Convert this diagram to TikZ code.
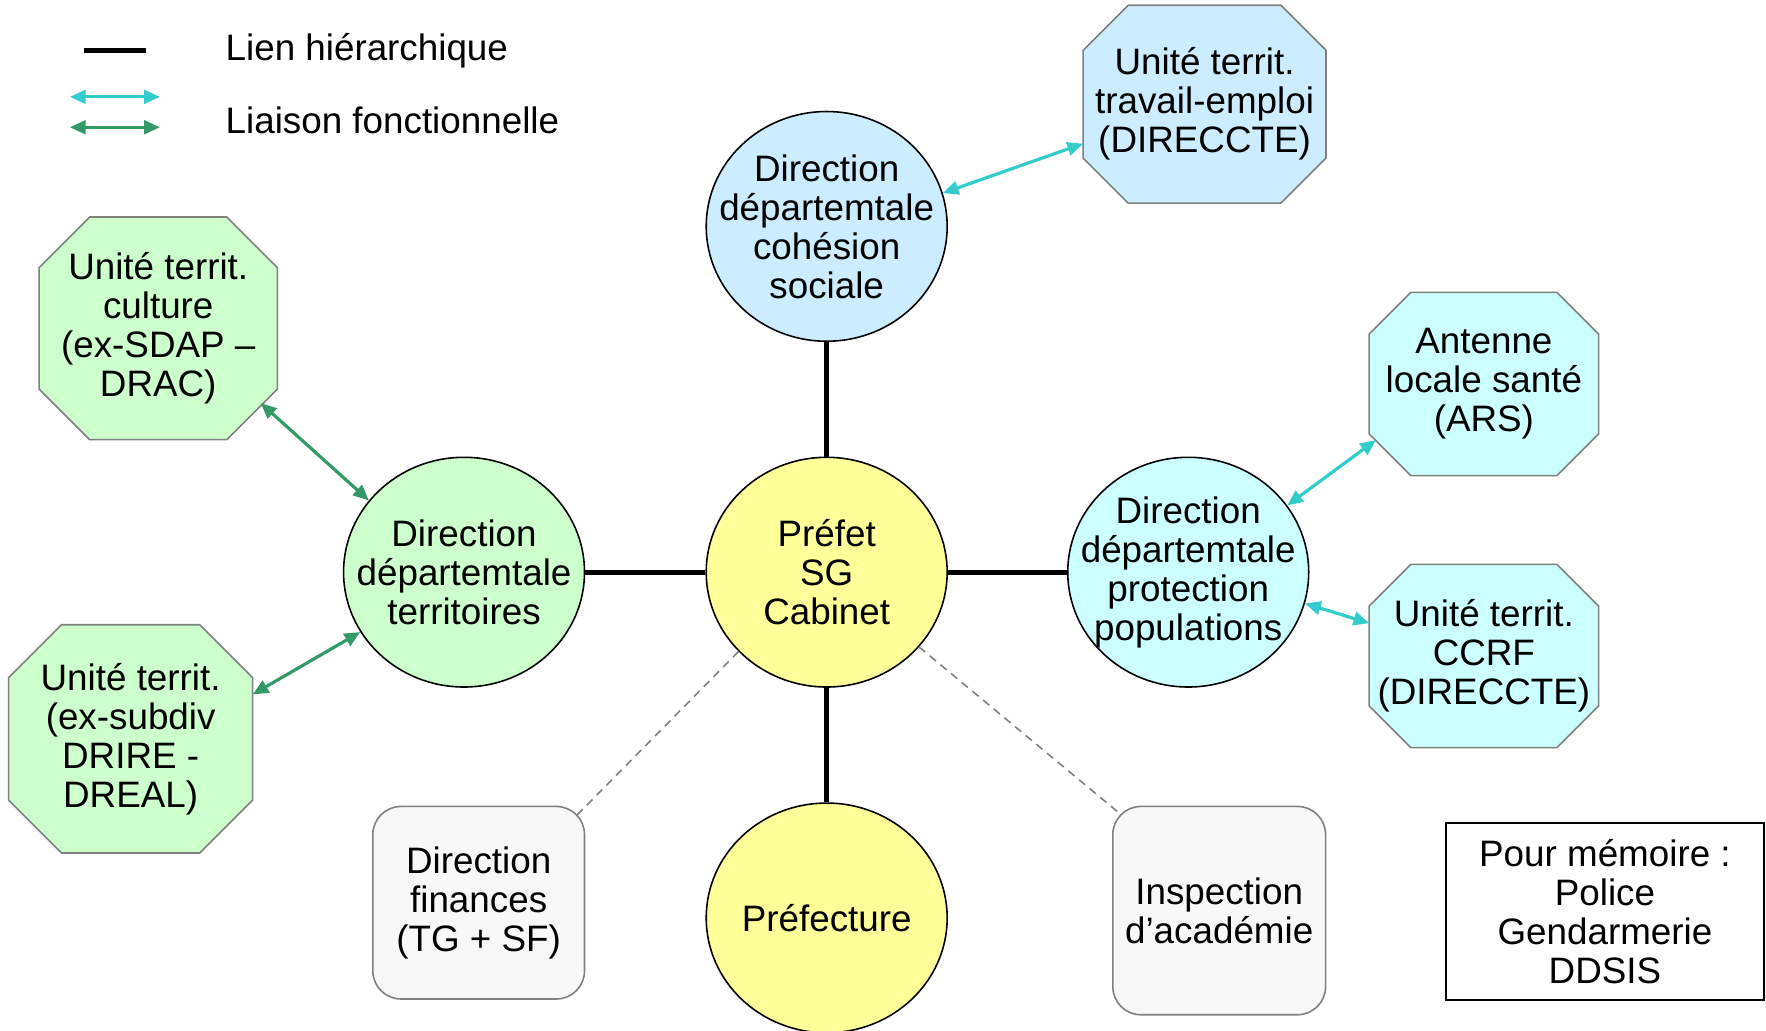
\documentclass[tikz,border=0pt]{standalone}
\usepackage{fontspec}
\setmainfont{Liberation Sans}
\usetikzlibrary{shapes.geometric,arrows.meta,backgrounds}
\definecolor{jaune}{HTML}{FFFF99}
\definecolor{bleuclair}{HTML}{CCECFF}
\definecolor{vertclair}{HTML}{CCFFCC}
\definecolor{cyanclair}{HTML}{CCFFFF}
\definecolor{grisclair}{HTML}{F8F8F8}
\definecolor{bord}{HTML}{808080}
\definecolor{lienbleu}{HTML}{33CCCC}
\definecolor{lienvert}{HTML}{339966}

\begin{document}
\begin{tikzpicture}[x=0.02cm, y=-0.02cm,
    every node/.style={font=\fontsize{18.6}{19.7}\selectfont, inner sep=0pt},
    every label/.style={align=center},
    >={Triangle[length=0.28cm, width=0.24cm]},
    dir/.style={ellipse, draw, line width=0.8pt, minimum width=4.28cm, minimum height=4.08cm},
    unite/.style={rectangle},
    octo/.style={draw=bord, line width=0.8pt},
    boite/.style={rectangle, rounded corners=0.5cm, draw=bord, fill=grisclair, line width=0.8pt, align=center},
    hier/.style={line width=2.6pt},
    fonct/.style={<->, line width=1.6pt},
    memo/.style={bord, line width=0.8pt, dash pattern=on 4pt off 3pt, shorten >=-0.22cm}]
    \useasboundingbox (0,0) rectangle (1568,915.4);
    \draw[hier] (75,45) -- (130,45);
    \draw[fonct, lienbleu] (62,86) -- (142,86);
    \draw[fonct, lienvert] (62,113) -- (142,113);
    \node[anchor=west] (lh) at (200,45) {Lien hiérarchique};
    \node[anchor=west] (lf) at (200,107) {Liaison fonctionnelle};

    \node[dir, fill=jaune, label={center:Préfet\\SG\\Cabinet}] (pf) at (734,508) {};
    \node[dir, fill=bleuclair, label={center:Direction\\départemtale\\cohésion\\sociale}] (cs) at (734,201) {};
    \node[dir, fill=vertclair, label={center:Direction\\départemtale\\territoires}] (tr) at (412,508) {};
    \node[dir, fill=cyanclair, label={center:Direction\\départemtale\\protection\\populations}] (pp) at (1055,508) {};
    \node[dir, fill=jaune, label={center:Préfecture}] (prf) at (734,815) {};

    \node[unite, minimum width=4.3cm, minimum height=3.5cm,
        label={center:Unité territ.\\travail-emploi\\(DIRECCTE)}] (ut) at (1069.5,92.5) {};
    \node[unite, minimum width=4.22cm, minimum height=3.94cm,
        label={center:Unité territ.\\culture\\(ex-SDAP –\\DRAC)}] (cu) at (140.5,291.5) {};
    \node[unite, minimum width=4.32cm, minimum height=4.04cm,
        label={center:Unité territ.\\(ex-subdiv\\DRIRE -\\DREAL)}] (sd) at (116,656) {};
    \node[unite, minimum width=4.06cm, minimum height=3.24cm,
        label={center:Antenne\\locale santé\\(ARS)}] (ars) at (1317.5,341) {};
    \node[unite, minimum width=4.06cm, minimum height=3.24cm,
        label={center:Unité territ.\\CCRF\\(DIRECCTE)}] (ccrf) at (1317.5,582.5) {};
    \begin{scope}[on background layer]
        \foreach \n/\c/\f in {ut/0.8/bleuclair, cu/0.9/vertclair, sd/0.94/vertclair, ars/0.74/cyanclair, ccrf/0.74/cyanclair}
            \draw[octo, fill=\f] ([xshift=\c cm]\n.north west) -- ([xshift=-\c cm]\n.north east)
                -- ([yshift=-\c cm]\n.north east) -- ([yshift=\c cm]\n.south east)
                -- ([xshift=-\c cm]\n.south east) -- ([xshift=\c cm]\n.south west)
                -- ([yshift=\c cm]\n.south west) -- ([yshift=-\c cm]\n.north west) -- cycle;
    \end{scope}

    \node[boite, minimum width=3.76cm, minimum height=3.42cm] (fin) at (425,801.5) {Direction\\finances\\(TG + SF)};
    \node[boite, minimum width=3.78cm, minimum height=3.7cm] (ia) at (1082.5,808.5) {Inspection\\d’académie};
    \node[draw, line width=0.9pt, fill=white, align=center, minimum width=5.64cm, minimum height=3.14cm] (pm) at (1425,809.5) {Pour mémoire :\\Police\\Gendarmerie\\DDSIS};

    \draw[hier] (cs) -- (pf);
    \draw[hier] (tr) -- (pf);
    \draw[hier] (pf) -- (pp);
    \draw[hier] (pf) -- (prf);
    \draw[fonct, lienbleu] (cs.16) -- (ut.198);
    \draw[fonct, lienbleu, shorten >=-0.15cm] (pp.34) -- (ars.208);
    \draw[fonct, lienbleu] (pp.-15) -- (ccrf.164);
    \draw[fonct, lienvert, shorten <=-0.4cm] (cu.-37.5) -- (tr.143);
    \draw[fonct, lienvert] (sd.20) -- (tr.210);
    \draw[memo] (pf.222.6) -- (fin.42);
    \draw[memo] (pf.-39.4) -- (ia.136.4);
\end{tikzpicture}
\end{document}
